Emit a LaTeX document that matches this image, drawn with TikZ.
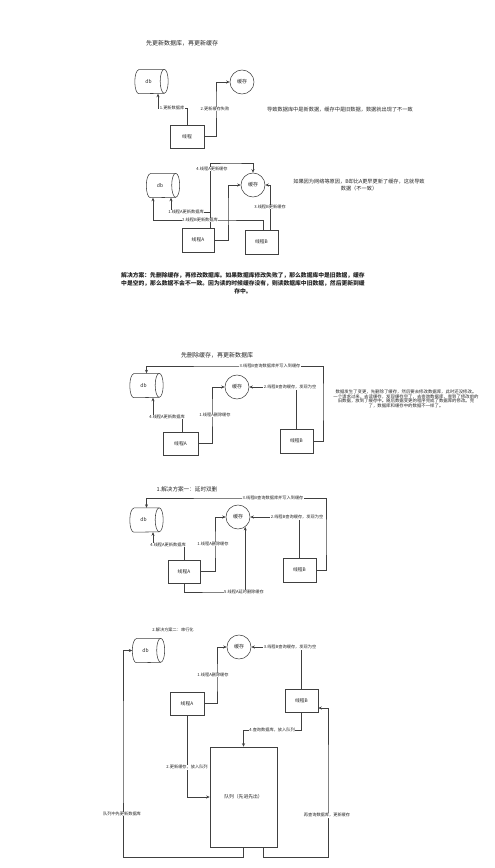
\documentclass[tikz,border=0pt]{standalone}
\usepackage{fontspec}
\newfontfamily\cjk{Noto Sans CJK SC}
\usetikzlibrary{arrows.meta,calc}
\newcommand\dbdraw[1]{%
 \draw[ln] ([xshift=4pt]#1.north west) -- ([xshift=-4pt]#1.north east)
   arc[start angle=90,end angle=-90,x radius=4pt,y radius=12pt]
   -- ([xshift=4pt]#1.south west)
   arc[start angle=270,end angle=90,x radius=4pt,y radius=12pt];
 \draw[ln] ([xshift=-4pt]#1.north east) arc[start angle=90,end angle=270,x radius=4pt,y radius=12pt];}
\begin{document}
\begin{tikzpicture}[x=1pt,y=1pt,
 ln/.style={draw=black!75,line width=0.55pt},
 arr/.style={ln,-{Stealth[length=3.5pt,width=3pt]}},
 lbl/.style={font=\cjk\fontsize{4.2}{4.6}\selectfont,fill=white,inner sep=0.5pt,text=black!85},
 box/.style={ln,rectangle,minimum width=34pt,minimum height=23pt,inner sep=0pt,font=\cjk\fontsize{4.8}{5}\selectfont,text=black!85},
 cache/.style={ln,circle,minimum size=24pt,inner sep=0pt,font=\cjk\fontsize{5}{5}\selectfont,text=black!85},
 dbn/.style={rectangle,minimum width=33pt,minimum height=24pt,inner sep=0pt,label={[font=\cjk\fontsize{5}{5}\selectfont,text=black!85,xshift=-3pt]center:db}},
 ttl/.style={font=\cjk\fontsize{6}{7}\selectfont,text=black!85},
 note/.style={font=\cjk\fontsize{5.2}{7}\selectfont,text=black!85,align=center},
]
\fill[white] (0,0) rectangle (495,-868);
\useasboundingbox (0,0) rectangle (495,-868);

% ---------- section 1
\node[ttl] (T1) at (182,-43) {先更新数据库，再更新缓存};
\node[dbn] (db1) at (151.5,-81.5) {};
\dbdraw{db1}
\node[cache] (c1) at (242,-82) {缓存};
\node[box] (t1) at (187,-136.5) {线程};
\draw[arr] (t1.north) |- (172,-108) -| ([xshift=6.5pt]db1.south);
\node[lbl] at (172,-108) {1.更新数据库};
\draw[arr] (t1.east) -| (216,-100) |- (c1.west);
\node[lbl] at (215,-109) {2.更新缓存失败};
\node[note] (n1) at (340,-110) {导致数据库中是新数据，缓存中是旧数据，数据就出现了不一致};

% ---------- section 2
\node[dbn] (db2) at (163,-185.5) {};
\dbdraw{db2}
\node[cache] (c2) at (253,-185) {缓存};
\node[box,minimum width=32pt,minimum height=24pt] (a2) at (198,-240) {线程A};
\node[box,minimum width=33pt,minimum height=24pt] (b2) at (261.5,-242) {线程B};
\draw[arr] ([xshift=12pt]a2.north) |- (230,-163) -| (c2.north);
\node[lbl] at (212,-169) {4.线程A更新缓存};
\draw[arr] (a2.east) -| (228,-210) |- (c2.west);
\draw[arr] ([xshift=12pt]a2.north) |- (190,-212) -| ([xshift=8pt]db2.south);
\node[lbl] at (186,-212) {1.线程A更新数据库};
\draw[arr] ([xshift=1.5pt]b2.north) |- (210,-220) -| ([xshift=-10pt]db2.south);
\node[lbl] at (200,-220) {2.线程B更新数据库};
\draw[arr] ([xshift=8.5pt]b2.north) |- (c2.east);
\node[lbl] at (270,-207) {3.线程B更新缓存};
\node[note] (n2) at (359,-185.5) {如果因为网络等原因，B却比A更早更新了缓存，这就导致\\数据（不一致）};

% ---------- section 3
\node[note,font=\cjk\bfseries\fontsize{5.8}{8}\selectfont] (n3) at (243,-283) {解决方案：先删除缓存，再修改数据库。如果数据库修改失败了，那么数据库中是旧数据，缓存\\中是空的，那么数据不会不一致。因为读的时候缓存没有，则读数据库中旧数据，然后更新到缓\\存中。};

% ---------- section 4
\node[ttl] (T4) at (217,-355) {先删除缓存，再更新数据库};
\node[dbn] (db4) at (146.5,-385.5) {};
\dbdraw{db4}
\node[cache] (c4) at (237,-387) {缓存};
\node[box,minimum width=35pt] (a4) at (180.5,-443.5) {线程A};
\node[box,minimum width=33pt,minimum height=24pt] (b4) at (296.5,-441) {线程B};
\draw[arr] (b4.east) -| (323,-400) |- (240,-366) -| (db4.north);
\node[lbl] at (270,-366) {3.线程B查询数据库并写入到缓存};
\draw[arr] (b4.north) |- (c4.east);
\node[lbl] at (290,-387) {2.线程B查询缓存，发现为空};
\draw[arr] (a4.east) -| (212,-410) |- (c4.west);
\node[lbl] at (215,-415) {1.线程A删除缓存};
\draw[arr] ([xshift=1.5pt]a4.north) |- (165,-417) -| ([xshift=6.5pt]db4.south);
\node[lbl] at (167,-417) {4.线程A更新数据库};
\node[note,font=\cjk\fontsize{4.4}{4.6}\selectfont] (n4) at (406,-399) {数据发生了变更，先删除了缓存，然后要去修改数据库，此时还没修改。\\一个请求过来，去读缓存，发现缓存空了，去查询数据库，查到了修改前的\\旧数据，放到了缓存中。随后数据变更的程序完成了数据库的修改。完\\了，数据库和缓存中的数据不一样了。};

% ---------- section 5
\node[ttl,font=\cjk\fontsize{5.6}{7}\selectfont] (T5) at (187,-489) {1.解决方案一：延时双删};
\node[dbn] (db5) at (146.5,-520) {};
\dbdraw{db5}
\node[cache] (c5) at (238,-517) {缓存};
\node[box,minimum width=32pt] (a5) at (184,-571.5) {线程A};
\node[box,minimum width=33pt,minimum height=24pt] (b5) at (299.5,-570) {线程B};
\draw[arr] (b5.east) -| (326,-540) |- (240,-498) -| (db5.north);
\node[lbl] at (273,-498) {3.线程B查询数据库并写入到缓存};
\draw[arr] (b5.north) |- (c5.east);
\node[lbl] at (297,-517) {2.线程B查询缓存，发现为空};
\draw[arr] (a5.east) -| (215,-545) |- (c5.west);
\node[lbl] at (213,-544) {1.线程A删除缓存};
\draw[arr] (a5.north) |- (170,-545) -| ([xshift=6.5pt]db5.south);
\node[lbl] at (168,-545) {4.线程A更新数据库};
\draw[arr] (a5.south) |- (220,-592) -| (c5.-54);
\node[lbl] at (244,-592) {5.线程A延时删除缓存};

% ---------- section 6
\node[ttl,font=\cjk\fontsize{4.2}{5}\selectfont] (T6) at (173,-630) {2.解决方案二：串行化};
\node[dbn,minimum width=32pt] (db6) at (148.5,-650.5) {};
\dbdraw{db6}
\node[cache] (c6) at (239,-647) {缓存};
\node[box] (a6) at (187,-703.5) {线程A};
\node[box,minimum width=33pt] (b6) at (301.5,-700.5) {线程B};
\node[box,minimum width=67pt,minimum height=100pt] (q) at (243.5,-797) {队列（先进先出）};
\draw[arr] (a6.east) -| (217,-680) |- (c6.west);
\node[lbl] at (213,-675) {1.线程A删除缓存};
\draw[arr] (b6.north) |- (c6.east);
\node[lbl] at (290,-647) {3.线程B查询缓存，发现为空};
\draw[arr] (b6.south) |- (270,-730) -| (q.north);
\node[lbl] at (272,-730) {4.查询数据库，放入队列};
\draw[arr] (a6.south) |- (q.west);
\node[lbl] at (187,-767) {2.更新缓存，放入队列};
\draw[arr] (q.south) |- (180,-857) -| (123,-750) |- (db6.west);
\node[lbl] at (122,-814) {队列中先更新数据库};
\draw[arr] ([xshift=19.5pt]q.south) |- (300,-857) -| (328,-780) |- ([yshift=-7.5pt]b6.east);
\node[lbl] at (327,-815) {再查询数据库，更新缓存};
\end{tikzpicture}
\end{document}
